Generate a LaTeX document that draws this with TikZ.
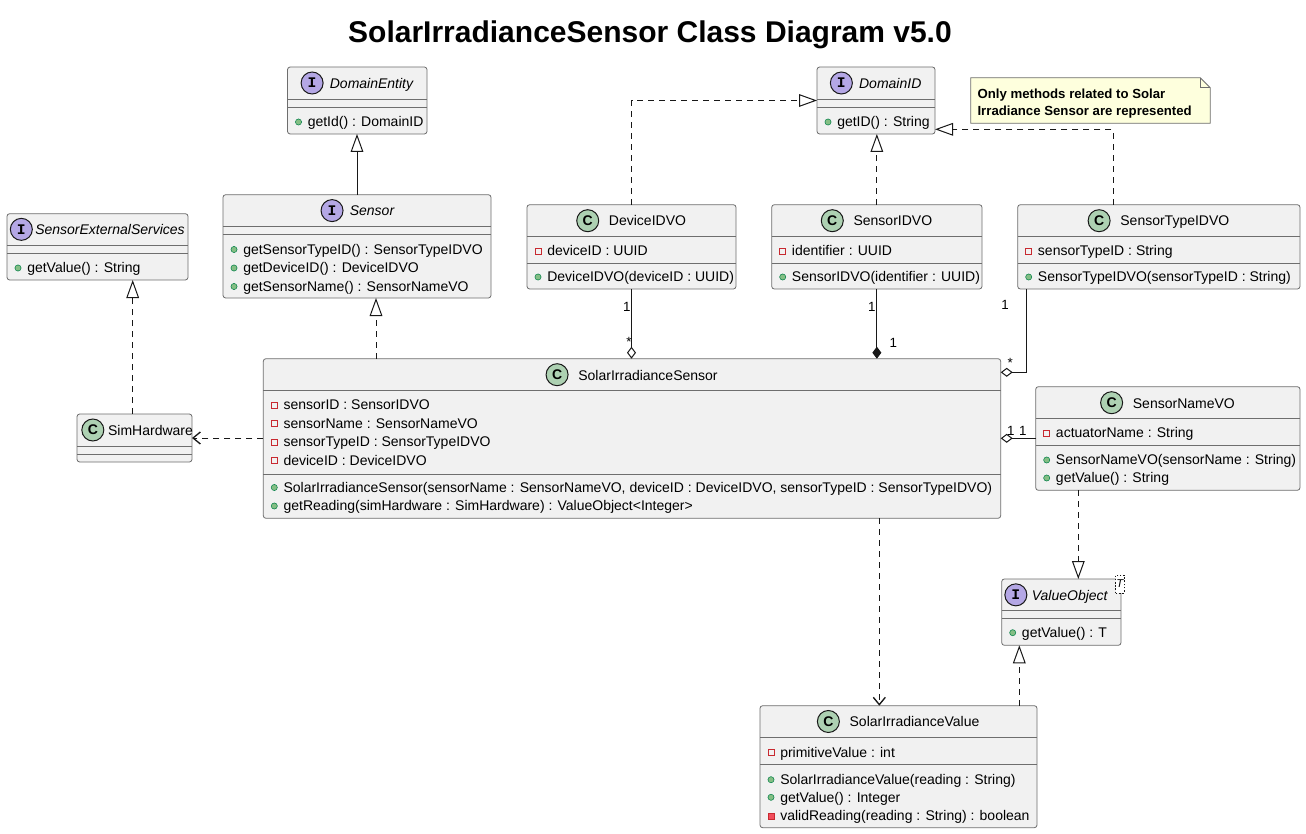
\documentclass[tikz,border=0pt]{standalone}
\usepackage{fontspec}
\setmainfont{Liberation Sans}
\newfontfamily\monob{Liberation Mono}
\usetikzlibrary{arrows.meta,calc,fit}
\definecolor{boxfill}{HTML}{F1F1F1}
\definecolor{boxline}{HTML}{181818}
\definecolor{bordergray}{HTML}{6E6E6E}
\definecolor{cgreen}{HTML}{ADD1B2}
\definecolor{ipurple}{HTML}{B4A7E5}
\definecolor{pubfill}{HTML}{84BE84}
\definecolor{publine}{HTML}{038048}
\definecolor{privline}{HTML}{C82930}
\definecolor{privfill}{HTML}{F24D5C}
\definecolor{notefill}{HTML}{FEFFDD}
\tikzset{
  umlbox/.style={rectangle, rounded corners=2pt, draw=bordergray, fill=boxfill, line width=0.6pt, inner sep=0pt, outer sep=0pt},
  sepline/.style={draw=bordergray, line width=0.6pt},
  htext/.style={inner sep=0pt, font=\fontsize{10.5}{12}\selectfont},
  mem/.style={inner sep=0pt, anchor=base west, font=\fontsize{10.5}{12}\selectfont},
  cicon/.style={circle, fill=cgreen, draw=boxline, line width=0.75pt, minimum size=16.5pt, inner sep=0pt, font=\bfseries\fontsize{10.5}{12}\selectfont},
  iicon/.style={circle, fill=ipurple, draw=boxline, line width=0.75pt, minimum size=16.5pt, inner sep=0pt, font=\monob\bfseries\fontsize{11}{12}\selectfont},
  pubdot/.style={circle, minimum size=4.6pt, inner sep=0pt, fill=pubfill, draw=publine, line width=0.4pt},
  privsq/.style={rectangle, minimum size=4.6pt, inner sep=0pt, draw=privline, line width=0.6pt},
  privsqf/.style={rectangle, minimum size=4.6pt, inner sep=0pt, fill=privfill, draw=privline, line width=0.6pt},
  mult/.style={inner sep=0pt, font=\fontsize{10}{12}\selectfont},
  conn/.style={draw=boxline, line width=0.75pt},
  dashline/.style={dash pattern=on 4.5pt off 3.75pt},
  gen/.style={conn, -{Triangle[open, length=13.5pt, width=9.5pt]}},
  real/.style={conn, dashline, -{Triangle[open, length=13.5pt, width=9.5pt]}},
  dep/.style={conn, dashline, -{Straight Barb[length=5.5pt, width=9pt, line width=1pt]}},
  agg/.style={conn, -{Diamond[open, length=9pt, width=6.75pt]}},
  comp/.style={conn, -{Diamond[length=9pt, width=6.75pt, fill=boxline]}},
  notetext/.style={inner sep=0pt, anchor=base west, font=\bfseries\fontsize{9.9}{12}\selectfont},
}
% class box: name, L, T, R, B, header line, separator
\newcommand{\umlclass}[7]{%
  \node[umlbox, fit={(#2,#3) (#4,#5)}] (#1) {};
  \draw[sepline] (#2,#6) -- (#4,#6);
  \draw[sepline] (#2,#7) -- (#4,#7);}
% header: name, text centre x, y mid, gap, icon style, letter, font switch, text
\newcommand{\hdr}[8]{%
  \node[htext, anchor=base] (#1) at (#2, #3+5.3) {#7#8};
  \node[#5] (#1i) at ($(#1.base west)+(-#4,-5.3)$) {#6};}
% members: name, box left, y centre, text
\newcommand{\pubm}[4]{%
  \node[pubdot] (#1i) at (#2+11,#3) {};
  \node[mem] (#1) at (#2+20,#3+4.9) {#4};}
\newcommand{\privf}[4]{%
  \node[privsq] (#1i) at (#2+11,#3) {};
  \node[mem] (#1) at (#2+20,#3+4.9) {#4};}
\newcommand{\privmeth}[4]{%
  \node[privsqf] (#1i) at (#2+11,#3) {};
  \node[mem] (#1) at (#2+20,#3+4.9) {#4};}
\begin{document}
\begin{tikzpicture}[x=0.75pt, y=-0.75pt]
\useasboundingbox[fill=white] (0,0) rectangle (1306,834);

% title
\node[inner sep=0pt, anchor=base, font=\bfseries\fontsize{22.5}{26}\selectfont] (title) at (650,43) {SolarIrradianceSensor Class Diagram v5.0};

% DomainEntity
\umlclass{dent}{287.5}{67}{427}{134}{99}{107.5}
\hdr{dentT}{371.5}{83}{17.5}{iicon}{I}{\itshape}{DomainEntity}
\pubm{dent1}{287.5}{122}{getId() : DomainID}

% DomainID
\umlclass{domid}{817}{67}{935}{134}{99}{107.5}
\hdr{domidT}{890.25}{83}{17.5}{iicon}{I}{\itshape}{DomainID}
\pubm{domid1}{817}{122}{getID() : String}

% Note
\node[fit={(971,78) (1210,123)}, inner sep=0pt] (note) {};
\draw[fill=notefill, draw=bordergray, line width=0.6pt] (note.north west) -- ($(note.north east)+(-10,0)$) -- ($(note.north east)+(0,10)$) -- (note.south east) -- (note.south west) -- cycle;
\draw[draw=bordergray, line width=0.6pt] ($(note.north east)+(-10,0)$) -- ($(note.north east)+(-10,10)$) -- ($(note.north east)+(0,10)$);
\node[notetext] (note1) at (977.3,98.2) {Only methods related to Solar};
\node[notetext] (note2) at (977.3,115.2) {Irradiance Sensor are represented};

% Sensor
\umlclass{sensor}{223}{194.7}{491}{298}{226.5}{234.5}
\hdr{sensorT}{372}{210.6}{17.5}{iicon}{I}{\itshape}{Sensor}
\pubm{sensor1}{223}{249.5}{getSensorTypeID() : SensorTypeIDVO}
\pubm{sensor2}{223}{268}{getDeviceID() : DeviceIDVO}
\pubm{sensor3}{223}{286.5}{getSensorName() : SensorNameVO}

% SensorExternalServices
\umlclass{ses}{7}{213.7}{188}{280}{245}{253.7}
\hdr{sesT}{110}{229.35}{13.7}{iicon}{I}{\itshape}{SensorExternalServices}
\pubm{ses1}{7}{268}{getValue() : String}

% SimHardware
\umlclass{simhw}{77}{414}{192}{462}{446}{454}
\hdr{simhwT}{150.5}{430}{15}{cicon}{C}{}{SimHardware}

% DeviceIDVO
\umlclass{devid}{527}{204.7}{736}{289}{236.7}{263.3}
\hdr{devidT}{647.5}{220.7}{21}{cicon}{C}{}{DeviceIDVO}
\privf{devid1}{527}{251}{deviceID : UUID}
\pubm{devid2}{527}{277}{DeviceIDVO(deviceID : UUID)}

% SensorIDVO
\umlclass{sid}{771.7}{204.7}{982}{289}{236.7}{263.3}
\hdr{sidT}{892.85}{220.7}{21}{cicon}{C}{}{SensorIDVO}
\privf{sid1}{771.7}{251}{identifier : UUID}
\pubm{sid2}{771.7}{277}{SensorIDVO(identifier : UUID)}

% SensorTypeIDVO
\umlclass{stid}{1017.7}{204.7}{1300}{289}{236.7}{263.3}
\hdr{stidT}{1174.85}{220.7}{21}{cicon}{C}{}{SensorTypeIDVO}
\privf{stid1}{1017.7}{251}{sensorTypeID : String}
\pubm{stid2}{1017.7}{277}{SensorTypeIDVO(sensorTypeID : String)}

% SolarIrradianceSensor
\umlclass{sis}{263.3}{358.7}{1000.7}{518.3}{390.7}{474}
\hdr{sisT}{648}{374.7}{21}{cicon}{C}{}{SolarIrradianceSensor}
\privf{sis1}{263.3}{405}{sensorID : SensorIDVO}
\privf{sis2}{263.3}{423.5}{sensorName : SensorNameVO}
\privf{sis3}{263.3}{442}{sensorTypeID : SensorTypeIDVO}
\privf{sis4}{263.3}{460.5}{deviceID : DeviceIDVO}
\pubm{sis5}{263.3}{487.5}{SolarIrradianceSensor(sensorName : SensorNameVO, deviceID : DeviceIDVO, sensorTypeID : SensorTypeIDVO)}
\pubm{sis6}{263.3}{506}{getReading(simHardware : SimHardware) : ValueObject<Integer>}

% SensorNameVO
\umlclass{sname}{1035.7}{386.7}{1300}{490.3}{418.7}{445.3}
\hdr{snameT}{1183.85}{402.7}{21}{cicon}{C}{}{SensorNameVO}
\privf{sname1}{1035.7}{433}{actuatorName : String}
\pubm{sname2}{1035.7}{460}{SensorNameVO(sensorName : String)}
\pubm{sname3}{1035.7}{478}{getValue() : String}

% ValueObject
\umlclass{vo}{1001.7}{579}{1121}{645.3}{610.7}{618.3}
\hdr{voT}{1069.7}{594.85}{15.7}{iicon}{I}{\itshape}{ValueObject}
\pubm{vo1}{1001.7}{632.7}{getValue() : T}
\node[draw=boxline, fill=white, line width=0.5pt, dash pattern=on 1.2pt off 1.2pt, minimum width=6.2pt, minimum height=13.5pt, inner sep=0pt, font=\itshape\fontsize{8.5}{9}\selectfont] (voG) at (1119.85,584) {T};

% SolarIrradianceValue
\umlclass{siv}{760}{705.7}{1037}{827.7}{737.3}{764}
\hdr{sivT}{914.5}{721.5}{21}{cicon}{C}{}{SolarIrradianceValue}
\privf{siv1}{760}{752.3}{primitiveValue : int}
\pubm{siv2}{760}{779.7}{SolarIrradianceValue(reading : String)}
\pubm{siv3}{760}{797.3}{getValue() : Integer}
\privmeth{siv4}{760}{816}{validReading(reading : String) : boolean}

% guide coordinates
\coordinate (gSens) at (376,0);
\coordinate (gSES) at (132.7,0);
\coordinate (gST) at (1113,129.3);
\coordinate (gST2) at (1026.3,372.3);
\coordinate (gSN) at (0,438.3);
\coordinate (gSIV) at (879.3,0);
\coordinate (gVO1) at (1078.3,0);
\coordinate (gVO2) at (1019.3,0);

% connectors
\draw[gen] (sensor.north) -- (sensor.north |- dent.south);
\draw[real] (sis.north -| gSens) -- (sensor.south -| gSens);
\draw[real] (simhw.north -| gSES) -- (ses.south -| gSES);
\draw[real] (devid.north) |- (domid.west);
\draw[real] (sid.north) -- (sid.north |- domid.south);
\draw[real] (stid.north -| gST) |- (domid.east |- gST);
\draw[agg] (devid.south) -- (devid.south |- sis.north);
\draw[comp] (sid.south) -- (sid.south |- sis.north);
\draw[agg] (stid.south -| gST2) |- (sis.east |- gST2);
\draw[agg] (sname.west |- gSN) -- (sis.east |- gSN);
\draw[dep] (sis.west |- simhw.east) -- (simhw.east);
\draw[dep] (sis.south -| gSIV) -- (siv.north -| gSIV);
\draw[real] (sname.south -| gVO1) -- (vo.north -| gVO1);
\draw[real] (siv.north -| gVO2) -- (vo.south -| gVO2);

% multiplicities
\node[mult] (m1) at (626.7,306.7) {1};
\node[mult] (m2) at (629,342) {*};
\node[mult] (m3) at (871.7,306.7) {1};
\node[mult] (m4) at (893.3,343.3) {1};
\node[mult] (m5) at (1005,305) {1};
\node[mult] (m6) at (1010.3,363) {*};
\node[mult] (m7) at (1010.7,430.7) {1};
\node[mult] (m8) at (1022.7,430.7) {1};
\end{tikzpicture}
\end{document}
